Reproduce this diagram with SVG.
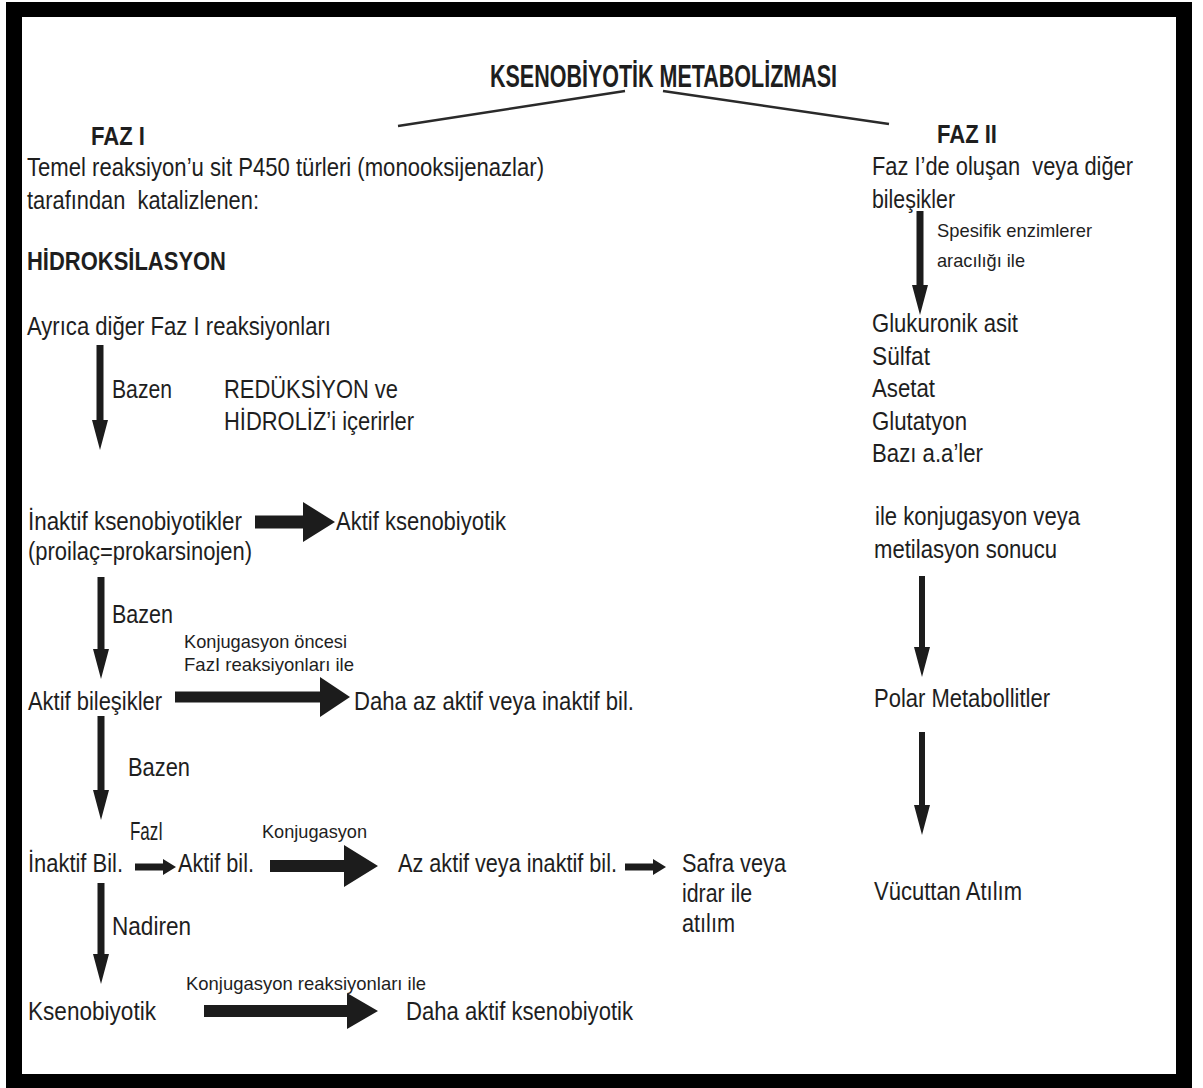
<svg xmlns="http://www.w3.org/2000/svg" width="1203" height="1088" viewBox="0 0 1203 1088">
<style>
text{font-family:"Liberation Sans","Arial",sans-serif;fill:#1e1e1e;font-size:26.5px}
.b{font-weight:bold;font-size:26px}
.t{font-size:31px;font-weight:bold}
.s{font-size:19px}
.arr{fill:#1c1c1c}
.ln{stroke:#2a2a2a;stroke-width:2.5;fill:none}
</style>
<rect x="0" y="0" width="1203" height="1088" fill="#ffffff"/>
<rect x="6" y="2" width="1186" height="1090" fill="#000"/>
<rect x="22" y="17" width="1154" height="1057" fill="#ffffff"/>

<g id="title"><text class="t" x="490" y="87" textLength="347" lengthAdjust="spacingAndGlyphs">KSENOBİYOTİK METABOLİZMASI</text></g>

<g id="connectors">
<line class="ln" x1="625" y1="91" x2="398" y2="126"/>
<line class="ln" x1="663" y1="91" x2="889" y2="124"/>
<!-- vertical arrows -->
<path class="arr" d="M96.5,345 H103.5 V420 H108 L100,450 L92,420 H96.5 Z"/>
<path class="arr" d="M97.5,577 H104.5 V649 H109 L101,679 L93,649 H97.5 Z"/>
<path class="arr" d="M97.5,716 H104.5 V790 H109 L101,820 L93,790 H97.5 Z"/>
<path class="arr" d="M97.5,883 H104.5 V954 H109 L101,984 L93,954 H97.5 Z"/>
<path class="arr" d="M916.5,211 H923.5 V285 H928 L920,315 L912,285 H916.5 Z"/>
<path class="arr" d="M919,576 H925 V647 H930 L922,677 L914,647 H919 Z"/>
<path class="arr" d="M919,732 H925 V805 H930 L922,835 L914,805 H919 Z"/>
<!-- horizontal arrows -->
<path class="arr" d="M255,515.5 H303 V502 L335,522 L303,542 V528.5 H255 Z"/>
<path class="arr" d="M175,691.5 H320 V677 L350,697 L320,717 V702.5 H175 Z"/>
<path class="arr" d="M135,863.5 H163 V859 L176,867 L163,875 V870.5 H135 Z"/>
<path class="arr" d="M270,860 H344 V845 L378,866 L344,887 V872 H270 Z"/>
<path class="arr" d="M625,863.5 H653 V859 L666,867 L653,875 V870.5 H625 Z"/>
<path class="arr" d="M204,1005 H347 V993 L378,1011 L347,1029 V1017 H204 Z"/>
</g>

<g id="faz1">
<text class="b" x="91" y="145" textLength="54" lengthAdjust="spacingAndGlyphs">FAZ I</text>
<text x="27" y="176" textLength="517" lengthAdjust="spacingAndGlyphs">Temel reaksiyon’u sit P450 türleri (monooksijenazlar)</text>
<text x="27" y="209" textLength="232" lengthAdjust="spacingAndGlyphs" xml:space="preserve">tarafından  katalizlenen:</text>
</g>
<g id="hidroksilasyon"><text class="b" x="27" y="270" textLength="199" lengthAdjust="spacingAndGlyphs">HİDROKSİLASYON</text></g>
<g id="ayrica"><text x="27" y="335" textLength="304" lengthAdjust="spacingAndGlyphs">Ayrıca diğer Faz I reaksiyonları</text></g>
<g id="label-bazen1"><text x="112" y="398" textLength="60" lengthAdjust="spacingAndGlyphs">Bazen</text></g>
<g id="reduksiyon">
<text x="224" y="398" textLength="174" lengthAdjust="spacingAndGlyphs">REDÜKSİYON ve</text>
<text x="224" y="430" textLength="190" lengthAdjust="spacingAndGlyphs">HİDROLİZ’i içerirler</text>
</g>
<g id="inaktif-ksen">
<text x="28" y="530" textLength="214" lengthAdjust="spacingAndGlyphs">İnaktif ksenobiyotikler</text>
<text x="28" y="560" textLength="224" lengthAdjust="spacingAndGlyphs">(proilaç=prokarsinojen)</text>
</g>
<g id="aktif-ksen"><text x="336" y="530" textLength="170" lengthAdjust="spacingAndGlyphs">Aktif ksenobiyotik</text></g>
<g id="label-bazen2"><text x="112" y="623" textLength="61" lengthAdjust="spacingAndGlyphs">Bazen</text></g>
<g id="label-konj-oncesi">
<text class="s" x="184" y="648" textLength="163" lengthAdjust="spacingAndGlyphs">Konjugasyon öncesi</text>
<text class="s" x="184" y="671" textLength="170" lengthAdjust="spacingAndGlyphs">FazI reaksiyonları ile</text>
</g>
<g id="aktif-bilesikler"><text x="28" y="710" textLength="134" lengthAdjust="spacingAndGlyphs">Aktif bileşikler</text></g>
<g id="daha-az-aktif"><text x="354" y="710" textLength="280" lengthAdjust="spacingAndGlyphs">Daha az aktif veya inaktif bil.</text></g>
<g id="label-bazen3"><text x="128" y="776" textLength="62" lengthAdjust="spacingAndGlyphs">Bazen</text></g>
<g id="label-fazi"><text x="130" y="840" textLength="33" lengthAdjust="spacingAndGlyphs">FazI</text></g>
<g id="label-konj"><text class="s" x="262" y="838" textLength="105" lengthAdjust="spacingAndGlyphs">Konjugasyon</text></g>
<g id="inaktif-bil"><text x="28" y="872" textLength="95" lengthAdjust="spacingAndGlyphs">İnaktif Bil.</text></g>
<g id="aktif-bil"><text x="178" y="872" textLength="76" lengthAdjust="spacingAndGlyphs">Aktif bil.</text></g>
<g id="az-aktif"><text x="398" y="872" textLength="219" lengthAdjust="spacingAndGlyphs">Az aktif veya inaktif bil.</text></g>
<g id="safra">
<text x="682" y="872" textLength="104" lengthAdjust="spacingAndGlyphs">Safra veya</text>
<text x="682" y="902" textLength="70" lengthAdjust="spacingAndGlyphs">idrar ile</text>
<text x="682" y="932" textLength="53" lengthAdjust="spacingAndGlyphs">atılım</text>
</g>
<g id="label-nadiren"><text x="112" y="935" textLength="79" lengthAdjust="spacingAndGlyphs">Nadiren</text></g>
<g id="label-konj-reak"><text class="s" x="186" y="990" textLength="240" lengthAdjust="spacingAndGlyphs">Konjugasyon reaksiyonları ile</text></g>
<g id="ksenobiyotik"><text x="28" y="1020" textLength="128" lengthAdjust="spacingAndGlyphs">Ksenobiyotik</text></g>
<g id="daha-aktif"><text x="406" y="1020" textLength="227" lengthAdjust="spacingAndGlyphs">Daha aktif ksenobiyotik</text></g>

<g id="faz2">
<text class="b" x="937" y="143" textLength="60" lengthAdjust="spacingAndGlyphs">FAZ II</text>
<text x="872" y="175" textLength="261" lengthAdjust="spacingAndGlyphs" xml:space="preserve">Faz I’de oluşan  veya diğer</text>
<text x="872" y="208" textLength="83" lengthAdjust="spacingAndGlyphs">bileşikler</text>
</g>
<g id="label-spesifik">
<text class="s" x="937" y="237" textLength="155" lengthAdjust="spacingAndGlyphs">Spesifik enzimlerer</text>
<text class="s" x="937" y="267" textLength="88" lengthAdjust="spacingAndGlyphs">aracılığı ile</text>
</g>
<g id="konjugatlar">
<text x="872" y="332" textLength="146" lengthAdjust="spacingAndGlyphs">Glukuronik asit</text>
<text x="872" y="365" textLength="58" lengthAdjust="spacingAndGlyphs">Sülfat</text>
<text x="872" y="397" textLength="63" lengthAdjust="spacingAndGlyphs">Asetat</text>
<text x="872" y="430" textLength="95" lengthAdjust="spacingAndGlyphs">Glutatyon</text>
<text x="872" y="462" textLength="111" lengthAdjust="spacingAndGlyphs">Bazı a.a’ler</text>
</g>
<g id="konjugasyon-sonucu">
<text x="875" y="525" textLength="205" lengthAdjust="spacingAndGlyphs">ile konjugasyon veya</text>
<text x="874" y="558" textLength="183" lengthAdjust="spacingAndGlyphs">metilasyon sonucu</text>
</g>
<g id="polar"><text x="874" y="707" textLength="176" lengthAdjust="spacingAndGlyphs">Polar Metabollitler</text></g>
<g id="vucuttan"><text x="874" y="900" textLength="148" lengthAdjust="spacingAndGlyphs">Vücuttan Atılım</text></g>
</svg>
